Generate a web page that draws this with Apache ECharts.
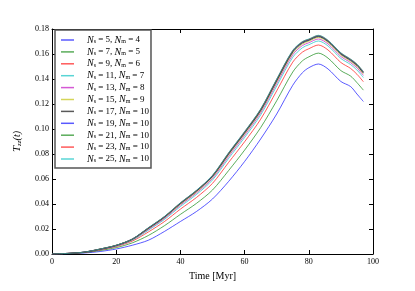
<!DOCTYPE html>
<html><head><meta charset="utf-8">
<script src="https://cdn.jsdelivr.net/npm/echarts@6/dist/echarts.min.js"></script>
<style>html,body{margin:0;padding:0;background:#fff}#c{width:415px;height:291px}</style>
</head><body><div id="c"></div>
<script>
const times = [0,5,10,15,20,25,30,35,40,45,50,55,60,65,70,75,78,80,83,86,90,93,95,97];
const nsList = [5,7,9,11,13,15,17,19,21,23,25];
const nmList = [4,5,6,7,8,9,10,10,10,10,10];
const s5  = [0,.0002,.0008,.002,.004,.007,.011,.018,.026,.034,.044,.058,.074,.092,.112,.135,.145,.149,.152,.148,.138,.134,.128,.122];
const s7  = [0,.0003,.0011,.0028,.0051,.0089,.0148,.0226,.0317,.0405,.0512,.0667,.0831,.1011,.1226,.1456,.1545,.1577,.1607,.1567,.1467,.1424,.1371,.1311];
const s9  = [0,.0004,.0013,.0033,.006,.0103,.0176,.0259,.0359,.0452,.0565,.0732,.0898,.1078,.1305,.1535,.1615,.1642,.1672,.1632,.1532,.1485,.1438,.1378];
const s11 = [0,.0004,.0014,.0036,.0064,.011,.019,.0276,.038,.0476,.0592,.0764,.0932,.1112,.1344,.1574,.165,.1674,.1704,.1664,.1564,.1516,.1472,.1412];
const s13 = [0,.0005,.0014,.0037,.0066,.0114,.0197,.0284,.0391,.0488,.0605,.078,.0949,.1129,.1364,.1594,.1668,.169,.172,.168,.158,.1531,.1489,.1429];
const s15 = [0,.0005,.0014,.0038,.0068,.0116,.0202,.029,.0398,.0496,.0615,.0792,.0961,.1141,.1378,.1608,.168,.1702,.1732,.1692,.1592,.1542,.1501,.1441];
const s17 = [0,.0005,.0015,.0039,.0069,.0118,.0205,.0294,.0403,.0502,.0621,.0799,.0968,.1148,.1386,.1616,.1688,.1709,.1739,.1699,.1599,.1549,.1508,.1448];
const s19 = [0,.0005,.0015,.0039,.0069,.0119,.0207,.0296,.0406,.0505,.0624,.0803,.0973,.1153,.1392,.1622,.1693,.1713,.1743,.1703,.1603,.1553,.1513,.1453];
const s21 = [0,.0005,.0015,.004,.007,.0119,.0208,.0298,.0407,.0507,.0626,.0805,.0975,.1155,.1394,.1624,.1695,.1715,.1745,.1705,.1605,.1556,.1515,.1455];
const s23 = [0,.0005,.0015,.004,.007,.012,.0209,.0299,.0409,.0508,.0628,.0808,.0978,.1158,.1397,.1627,.1698,.1718,.1748,.1708,.1608,.1558,.1518,.1458];
const s25 = [0,.0005,.0015,.004,.007,.012,.021,.030,.041,.051,.063,.081,.098,.116,.140,.163,.170,.172,.175,.171,.161,.156,.152,.146];
const xTicks = [0,20,40,60,80,100];
const yTicks = ['0.00','0.02','0.04','0.06','0.08','0.10','0.12','0.14','0.16','0.18'];

const allSeries = [s5,s7,s9,s11,s13,s15,s17,s19,s21,s23,s25];
const colors = ['#0000ff','#008000','#ff0000','#00bfbf','#bf00bf','#bfbf00','#000000','#0000ff','#008000','#ff0000','#00bfbf'];
const alpha = 0.65;
const FONT = 'Liberation Serif';

const names = nsList.map((n,i)=>n+','+nmList[i]);
const series = allSeries.map((arr,i)=>({
  name: names[i], type:'line', showSymbol:false, symbol:'none', smooth:0.3,
  data: times.map((t,j)=>[t,arr[j]]),
  lineStyle:{color:colors[i], width:1, opacity:alpha},
  itemStyle:{color:colors[i], opacity:alpha},
  z: 2+i
}));

const chart = echarts.init(document.getElementById('c'), null, {renderer:'canvas'});
const axisLine = {show:true, onZero:false, lineStyle:{color:'#000', width:1}};
chart.setOption({
  animation:false,
  grid:{left:52, right:42, top:29, bottom:37, show:false},
  xAxis:[{
    type:'value', min:0, max:100, interval:20, position:'bottom',
    axisLine, splitLine:{show:false},
    axisTick:{inside:true, length:4, lineStyle:{color:'#000'}},
    axisLabel:{color:'#000', fontFamily:FONT, fontSize:8, margin:4,
      formatter:v=> xTicks.includes(v)? String(v):''},
    name:'Time [Myr]', nameLocation:'middle', nameGap:14,
    nameTextStyle:{color:'#000', fontFamily:FONT, fontSize:10}
  },{
    type:'value', min:0, max:100, interval:20, position:'top',
    axisLine, splitLine:{show:false},
    axisTick:{inside:true, length:4, lineStyle:{color:'#000'}},
    axisLabel:{show:false}
  }],
  yAxis:[{
    type:'value', min:0, max:0.18, interval:0.02, position:'left',
    axisLine, splitLine:{show:false},
    axisTick:{inside:true, length:4, lineStyle:{color:'#000'}},
    axisLabel:{color:'#000', fontFamily:FONT, fontSize:8, margin:3,
      formatter:v=> yTicks[Math.round(v/0.02)]},
    name:'{t|T}{s|zz}{p|(t)}', nameLocation:'middle', nameGap:29, nameRotate:90,
    nameTextStyle:{color:'#000', fontFamily:FONT, fontSize:10,
      rich:{t:{fontFamily:FONT,fontStyle:'italic',fontSize:11,color:'#000'},
            s:{fontFamily:FONT,fontStyle:'italic',fontSize:7,color:'#000',padding:[4,0,0,0]},
            p:{fontFamily:FONT,fontStyle:'italic',fontSize:10,color:'#000'}}}
  },{
    type:'value', min:0, max:0.18, interval:0.02, position:'right',
    axisLine, splitLine:{show:false},
    axisTick:{inside:true, length:4, lineStyle:{color:'#000'}},
    axisLabel:{show:false}
  }],
  legend:{
    orient:'vertical', left:55, top:30,
    data: names,
    icon:'rect', itemWidth:13, itemHeight:1.5, itemGap:1.9,
    padding:[5,2,4,6],
    borderColor:'#555', borderWidth:1.5, backgroundColor:'#fff',
    formatter: name => { const p = name.split(',');
      return '{i|N}{s|s}{t| = '+p[0]+', }{i|N}{s|m}{t| = '+p[1]+'}'; },
    textStyle:{color:'#000', fontFamily:FONT, fontSize:9, padding:[0,0,0,8],
      rich:{
        i:{fontFamily:FONT,fontStyle:'italic',fontSize:10,color:'#000',lineHeight:10},
        s:{fontFamily:FONT,fontSize:6,color:'#000',padding:[3,0,0,0],lineHeight:10},
        t:{fontFamily:FONT,fontSize:9,color:'#000',lineHeight:10}
      }}
  },
  series
});
</script></body></html>
